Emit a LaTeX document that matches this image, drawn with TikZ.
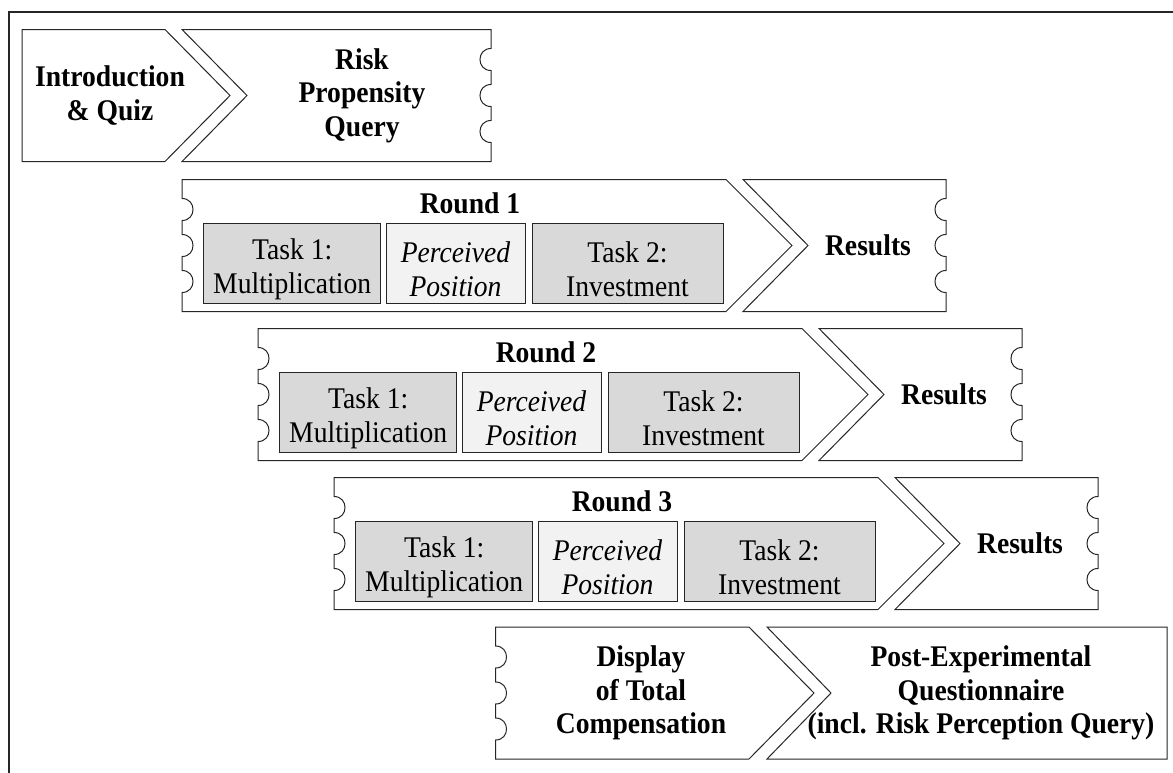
\documentclass[tikz,border=0pt]{standalone}
\usepackage{fontspec}
\setmainfont{Liberation Serif}[FakeStretch=0.92]
\definecolor{taskgray}{HTML}{D9D9D9}
\definecolor{percgray}{HTML}{F2F2F2}
\definecolor{linec}{HTML}{262626}
\newcommand\tstrut{\rule{0pt}{32pt}}
\begin{document}
\begin{tikzpicture}[x=1pt,y=-1pt,
  shp/.style={draw=linec, line width=1pt, line join=miter, fill=white},
  lbl/.style={font=\fontsize{30}{33.4}\selectfont\bfseries, align=center, inner sep=0pt},
  tsk/.style={draw=linec, line width=1pt, fill=taskgray, inner sep=0pt, minimum height=80pt, align=center, font=\fontsize{30}{33.5}\selectfont},
  prc/.style={tsk, fill=percgray, font=\fontsize{30}{33.5}\selectfont\itshape},
  rb/.style 2 args={insert path={
    -- (#1,{#2+19}) .. controls ({#1-14.7},{#2+19}) and ({#1-14.7},{#2+41}) .. (#1,{#2+41})
    -- (#1,{#2+55}) .. controls ({#1-14.7},{#2+55}) and ({#1-14.7},{#2+77}) .. (#1,{#2+77})
    -- (#1,{#2+91}) .. controls ({#1-14.7},{#2+91}) and ({#1-14.7},{#2+113}) .. (#1,{#2+113})
    -- (#1,{#2+132})}},
  lb/.style 2 args={insert path={
    -- (#1,{#2+113}) .. controls ({#1+14.7},{#2+113}) and ({#1+14.7},{#2+91}) .. (#1,{#2+91})
    -- (#1,{#2+77}) .. controls ({#1+14.7},{#2+77}) and ({#1+14.7},{#2+55}) .. (#1,{#2+55})
    -- (#1,{#2+41}) .. controls ({#1+14.7},{#2+41}) and ({#1+14.7},{#2+19}) .. (#1,{#2+19})}}
]
\useasboundingbox (0,0) rectangle (1173,772);
% frame
\draw[line width=1.2pt, black!85] (9,790) -- (9,12) -- (1190,12);

% Introduction
\draw[shp] (22,29.5) -- (165,29.5) -- (230,95.5) -- (165,161.5) -- (22,161.5) -- cycle;
\node[lbl] (intro) at (110,95.5) {Introduction\\\& Quiz};

% Risk propensity
\draw[shp] (182,29.5) -- (491,29.5) [rb={491}{29.5}] -- (182,161.5) -- (247,95.5) -- cycle;
\node[lbl] (risk) at (362,95.5) {Risk\\Propensity\\Query};

% Rounds
\foreach \k/\T in {1/179.5, 2/328.5, 3/477.5} {
  \pgfmathsetmacro\dx{76*(\k-1)}
  \pgfmathsetmacro\L{182+\dx}
  \pgfmathsetmacro\C{726+\dx}
  \pgfmathsetmacro\Tip{792+\dx}
  \pgfmathsetmacro\RL{743+\dx}
  \pgfmathsetmacro\V{808+\dx}
  \pgfmathsetmacro\R{946+\dx}
  \pgfmathsetmacro\M{\T+66}
  \pgfmathsetmacro\B{\T+132}
  \pgfmathsetmacro\Y{\T+84}
  \draw[shp] (\L,\T) -- (\C,\T) -- (\Tip,\M) -- (\C,\B) -- (\L,\B) [lb={\L}{\T}] -- cycle;
  \draw[shp] (\RL,\T) -- (\R,\T) [rb={\R}{\T}] -- (\RL,\B) -- (\V,\M) -- cycle;
  \node[lbl, anchor=base] (round\k) at ({470+\dx},{\T+34}) {Round \k};
  \node[tsk, minimum width=176.5pt] (taskA\k) at ({292.2+\dx},\Y) {\tstrut Task 1:\\Multiplication};
  \node[prc, minimum width=139pt] (perc\k) at ({455.5+\dx},\Y) {\tstrut Perceived\\Position};
  \node[tsk, minimum width=191pt] (taskB\k) at ({627.5+\dx},\Y) {\tstrut Task 2:\\Investment};
  \node[lbl] (res\k) at ({868+\dx},\M) {Results};
}

% Display of total compensation
\draw[shp] (495.5,627) -- (749,627) -- (814,693) -- (749,759) -- (495.5,759) [lb={495.5}{627}] -- cycle;
\node[lbl] (disp) at (641,693) {Display\\of Total\\Compensation};

% Post-experimental questionnaire
\draw[shp] (767,627) -- (1167,627) -- (1167,759) -- (767,759) -- (831,693) -- cycle;
\node[lbl] (post) at (981,693) {Post-Experimental\\Questionnaire\\(incl. Risk Perception Query)};
\end{tikzpicture}
\end{document}
